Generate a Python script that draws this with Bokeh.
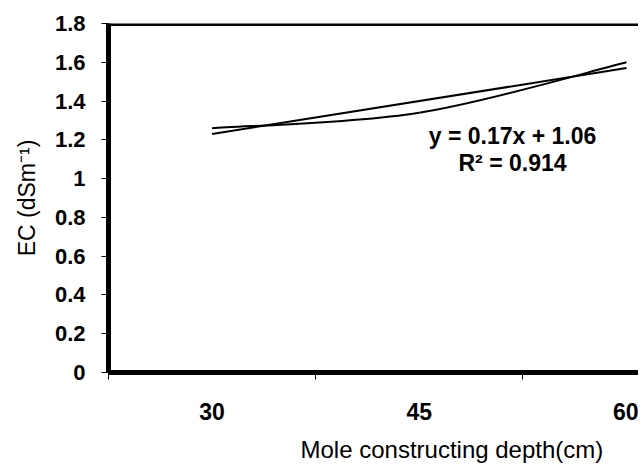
from bokeh.plotting import figure
from bokeh.models import Range1d, FixedTicker, Span, Title, ColumnDataSource
from bokeh.core.properties import value
from bokeh.embed import file_html
from bokeh.resources import INLINE

# ---- data ----
depth_labels = ["30", "45", "60"]
ec_values = [1.26, 1.34, 1.60]
trend_slope = 0.17
trend_intercept = 1.06
r_squared = 0.914
y_ticks = [0, 0.2, 0.4, 0.6, 0.8, 1.0, 1.2, 1.4, 1.6, 1.8]
y_tick_labels = ["0", "0.2", "0.4", "0.6", "0.8", "1", "1.2", "1.4", "1.6", "1.8"]

FONT = "Liberation Sans"
xs = list(range(1, len(ec_values) + 1))

p = figure(frame_width=530, frame_height=349, output_backend="svg", toolbar_location=None,
           x_range=Range1d(0.5, 3.058), y_range=Range1d(0, 1.8),
           min_border_left=108, min_border_top=23, min_border_bottom=0,
           min_border_right=0)
p.outline_line_color = None
p.grid.visible = False
p.background_fill_color = "white"
p.border_fill_color = "white"

# y axis
ya = p.yaxis[0]
ya.ticker = FixedTicker(ticks=y_ticks, minor_ticks=[])
ya.major_label_overrides = {t: l for t, l in zip(y_ticks, y_tick_labels)}
ya.axis_line_width = 5
ya.axis_line_color = "black"
ya.major_tick_out = 7
ya.major_tick_in = 0
ya.major_tick_line_color = "black"
ya.minor_tick_line_color = None
ya.major_label_text_font = FONT
ya.major_label_text_font_style = "bold"
ya.major_label_text_font_size = "22px"
ya.major_label_text_color = "black"
ya.major_label_standoff = 16
ya.axis_label = "EC (dSm\u207b\u00b9)"
ya.axis_label_text_font = FONT
ya.axis_label_text_font_style = "normal"
ya.axis_label_text_font_size = "23px"
ya.axis_label_text_color = "black"
ya.axis_label_standoff = 12

# x axis
xa = p.xaxis[0]
xa.ticker = FixedTicker(ticks=xs, minor_ticks=[x - 0.5 for x in xs])
xa.major_label_overrides = {x: l for x, l in zip(xs, depth_labels)}
xa.axis_line_width = 5
xa.axis_line_color = "black"
xa.major_tick_out = 0
xa.major_tick_in = 0
xa.minor_tick_out = 7
xa.minor_tick_in = 0
xa.minor_tick_line_color = "black"
xa.major_label_text_font = FONT
xa.major_label_text_font_style = "bold"
xa.major_label_text_font_size = "23px"
xa.major_label_text_color = "black"
xa.major_label_standoff = 23

# x axis title (as a title below the axis)
p.add_layout(Title(text="Mole constructing depth(cm)", align="left", offset=192,
                   text_font=FONT, text_font_size="24px", text_font_style="normal",
                   text_color="black", standoff=23), "below")

# top border
p.add_layout(Span(location=1.8, dimension="width", line_color="black", line_width=5))

# smoothed data curve (cubic Bezier segments through data points)
pts = list(zip(xs, ec_values))
x0s, y0s, x1s, y1s, cx0, cy0, cx1, cy1 = [], [], [], [], [], [], [], []
n = len(pts)
for i in range(n - 1):
    pm = pts[max(i - 1, 0)]
    p0 = pts[i]
    p1 = pts[i + 1]
    p2 = pts[min(i + 2, n - 1)]
    x0s.append(p0[0]); y0s.append(p0[1])
    x1s.append(p1[0]); y1s.append(p1[1])
    cx0.append(p0[0] + (p1[0] - pm[0]) / 6.0); cy0.append(p0[1] + (p1[1] - pm[1]) / 6.0)
    cx1.append(p1[0] - (p2[0] - p0[0]) / 6.0); cy1.append(p1[1] - (p2[1] - p0[1]) / 6.0)
p.bezier(x0=x0s, y0=y0s, x1=x1s, y1=y1s, cx0=cx0, cy0=cy0, cx1=cx1, cy1=cy1,
         line_color="black", line_width=2)

# linear trendline
tx = [xs[0], xs[-1]]
ty = [trend_intercept + trend_slope * x for x in tx]
p.line(tx, ty, line_color="black", line_width=2)

# equation text
eq_src = ColumnDataSource(dict(
    x=[2.45, 2.45], y=[1.22, 1.083],
    t=[f"y = {trend_slope}x + {trend_intercept}", f"R\u00b2 = {r_squared}"]))
p.text(x="x", y="y", text="t", source=eq_src, text_font=value(FONT),
       text_font_style="bold", text_font_size="23px", text_align="center",
       text_baseline="middle", text_color="black")

open("out.html", "w").write(file_html(p, INLINE))
